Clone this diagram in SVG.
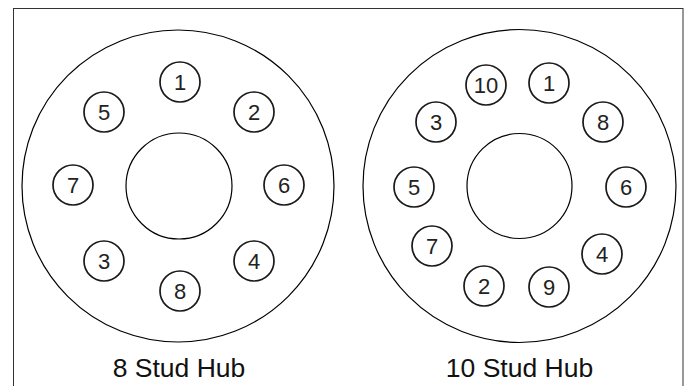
<svg xmlns="http://www.w3.org/2000/svg" width="688" height="386" viewBox="0 0 688 386">
<style>
.hub{fill:none;stroke:#000;stroke-width:1.2}
.stud circle{fill:#fff;stroke:#1a1a1a;stroke-width:1.7}
.stud text{font-family:"Liberation Sans",Arial,sans-serif;font-size:22px;fill:#222;text-anchor:middle}
.lbl{font-family:"Liberation Sans",Arial,sans-serif;font-size:26.5px;fill:#111;text-anchor:middle}
</style>
<rect x="0" y="0" width="688" height="386" fill="#fff"/>
<rect x="13.5" y="8.5" width="669.5" height="390" fill="none" stroke="#333" stroke-width="1"/>
<g id="hub8">
<circle class="hub" cx="178" cy="186" r="156"/>
<circle class="hub" cx="179" cy="186" r="53"/>
<text class="lbl" x="179" y="377">8 Stud Hub</text>
</g>
<g id="hub8-studs" class="stud">
<g id="h8s1"><circle cx="180" cy="82" r="20"/><text x="180" y="90">1</text></g>
<g id="h8s2"><circle cx="254" cy="112" r="20"/><text x="254" y="120">2</text></g>
<g id="h8s3"><circle cx="104" cy="261" r="20"/><text x="104" y="269">3</text></g>
<g id="h8s4"><circle cx="254" cy="261" r="20"/><text x="254" y="269">4</text></g>
<g id="h8s5"><circle cx="104" cy="112" r="20"/><text x="104" y="120">5</text></g>
<g id="h8s6"><circle cx="284" cy="185" r="20"/><text x="284" y="193">6</text></g>
<g id="h8s7"><circle cx="73" cy="185" r="20"/><text x="73" y="193">7</text></g>
<g id="h8s8"><circle cx="180" cy="291" r="20"/><text x="180" y="299">8</text></g>
</g>
<g id="hub10">
<circle class="hub" cx="519.5" cy="186" r="156.5"/>
<circle class="hub" cx="519.5" cy="186" r="52.5"/>
<text class="lbl" x="519.5" y="377">10 Stud Hub</text>
</g>
<g id="hub10-studs" class="stud">
<g id="h10s10"><circle cx="486" cy="85" r="20"/><text x="486" y="93">10</text></g>
<g id="h10s1"><circle cx="549" cy="83" r="20"/><text x="549" y="91">1</text></g>
<g id="h10s3"><circle cx="436" cy="122" r="20"/><text x="436" y="130">3</text></g>
<g id="h10s8"><circle cx="603" cy="122" r="20"/><text x="603" y="130">8</text></g>
<g id="h10s5"><circle cx="414" cy="187" r="20"/><text x="414" y="195">5</text></g>
<g id="h10s6"><circle cx="626" cy="187" r="20"/><text x="626" y="195">6</text></g>
<g id="h10s7"><circle cx="432" cy="246" r="20"/><text x="432" y="254">7</text></g>
<g id="h10s4"><circle cx="602" cy="254" r="20"/><text x="602" y="262">4</text></g>
<g id="h10s2"><circle cx="484" cy="286" r="20"/><text x="484" y="294">2</text></g>
<g id="h10s9"><circle cx="549" cy="287" r="20"/><text x="549" y="295">9</text></g>
</g>
<g id="connectors"/>
</svg>
